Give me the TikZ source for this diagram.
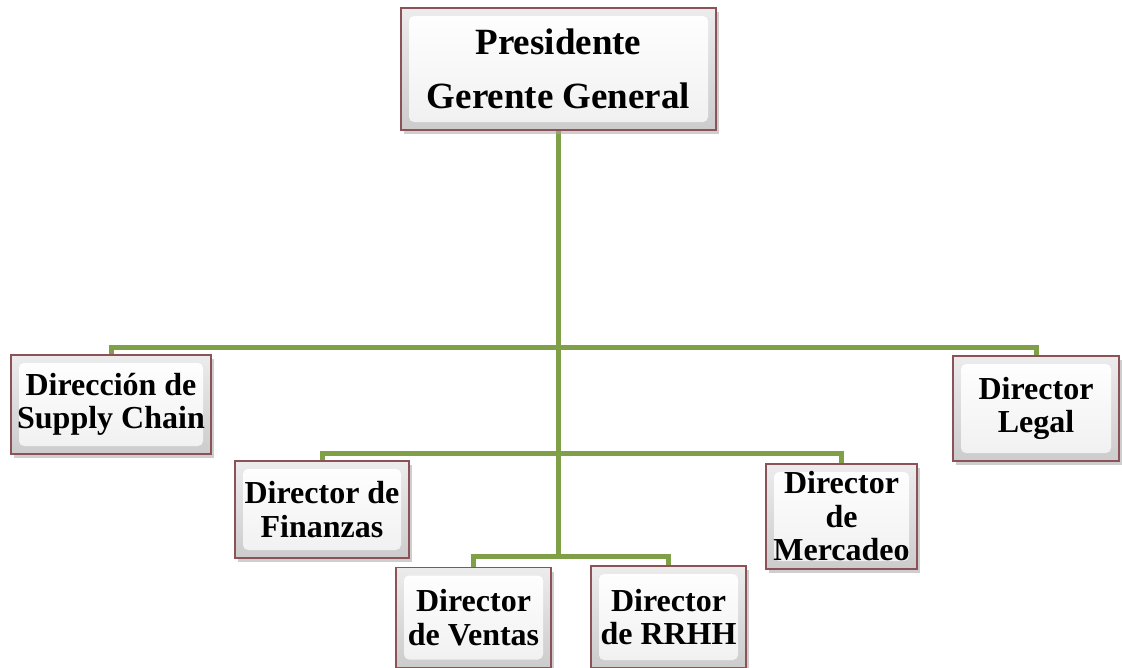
\documentclass[tikz,border=0pt]{standalone}
\usepackage{fontspec}
\setmainfont{Liberation Serif}
\usetikzlibrary{shadows,backgrounds}
\definecolor{conngreen}{RGB}{128,160,72}
\definecolor{boxborder}{RGB}{140,82,88}
\tikzset{
  orgbox/.style={draw=boxborder, line width=1.8pt, align=center,
    top color=gray!15, bottom color=gray!40,
    inner sep=0pt, outer sep=0pt,
    font=\fontsize{32}{33.5}\selectfont\bfseries,
    drop shadow={shadow xshift=3pt, shadow yshift=-4pt, fill=gray!70, opacity=.55},
    path picture={\shade[top color=white, bottom color=gray!12, rounded corners=5pt]
      ([xshift=8pt,yshift=-8pt]path picture bounding box.north west) rectangle
      ([xshift=-8pt,yshift=8pt]path picture bounding box.south east);}},
  topbox/.style={orgbox, font=\fontsize{37}{53.5}\selectfont\bfseries},
  conn/.style={draw=conngreen, line width=5pt, line join=miter}
}
\begin{document}
\begin{tikzpicture}[x=1pt,y=-1pt]
\useasboundingbox (0,0) rectangle (1122,667);
\node[topbox, minimum width=315pt, minimum height=122pt] (pres) at (558.5,69) {Presidente\\Gerente General};
\node[orgbox, minimum width=200pt, minimum height=99pt] (sc) at (111,404.5) {Dirección de\\Supply Chain};
\node[orgbox, minimum width=166pt, minimum height=105pt] (legal) at (1036,408.5) {Director\\Legal};
\node[orgbox, minimum width=174pt, minimum height=97pt] (fin) at (322,509.5) {Director de\\Finanzas};
\node[orgbox, minimum width=151pt, minimum height=105pt] (merc) at (841.5,516.5) {Director\\de\\Mercadeo};
\node[orgbox, minimum width=155pt, minimum height=100pt] (ven) at (473.5,617.5) {Director\\de Ventas};
\node[orgbox, minimum width=155pt, minimum height=102pt] (rrhh) at (668.5,617) {Director\\de RRHH};
\coordinate (j1) at (558.5,347);
\coordinate (j2) at (558.5,453);
\coordinate (j3) at (558.5,556);
\begin{pgfonlayer}{background}
\draw[conn] (pres.south) -- (j3);
\draw[conn] (sc.north) |- (j1) -| (legal.north);
\draw[conn] (fin.north) |- (j2) -| (merc.north);
\draw[conn] (ven.north) |- (j3) -| (rrhh.north);
\end{pgfonlayer}
\end{tikzpicture}
\end{document}
